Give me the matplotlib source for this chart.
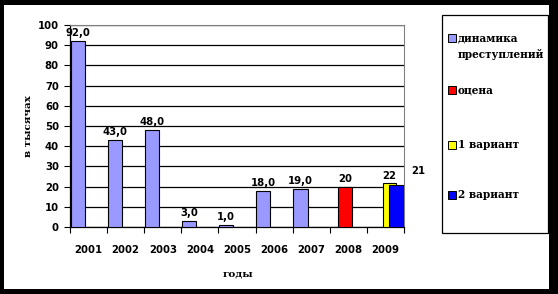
import matplotlib as mpl
mpl.use("Agg")
import matplotlib.pyplot as plt
from matplotlib.patches import Rectangle

# data
years = ["2001", "2002", "2003", "2004", "2005", "2006", "2007", "2008", "2009"]
dyn_idx = [0, 1, 2, 3, 4, 5, 6]
dyn_vals = [92.0, 43.0, 48.0, 3.0, 1.0, 18.0, 19.0]
est_idx = [7]
est_vals = [20]
var1_idx = [8]
var1_vals = [22]
var2_idx = [8]
var2_vals = [21]

legend_names = ["динамика\nпреступлений", "оцена", "1 вариант", "2 вариант"]
colors = ["#9999FF", "#FF0000", "#FFFF00", "#0000FF"]

num_font = "DejaVu Sans"     # digits look like Verdana bold
txt_font = "DejaVu Serif"    # cyrillic text looks serif
fs = 7.3
W, H = 558, 294

fig = plt.figure(figsize=(W / 100, H / 100), dpi=100)
fig.patch.set_facecolor("black")
# white card with black frame
fig.patches.append(Rectangle((4 / W, 1 - 289 / H), 545 / W, 284 / H,
                             transform=fig.transFigure, facecolor="white",
                             edgecolor="none", zorder=-5))

ax = fig.add_axes([70 / W, 1 - 227 / H, 334 / W, 202 / H])
ax.set_zorder(5)
ax.set_facecolor("white")

def bars(idx, vals, off, w, c):
    return ax.bar([i + off for i in idx], vals, width=w, align="edge",
                  color=c, edgecolor="black", linewidth=0.8, zorder=3)

b0 = bars(dyn_idx, dyn_vals, 0.02, 0.38, colors[0])
b1 = bars(est_idx, est_vals, 0.22, 0.38, colors[1])
b2 = bars(var1_idx, var1_vals, 0.43, 0.36, colors[2])
b3 = bars(var2_idx, var2_vals, 0.59, 0.41, colors[3])

lab = dict(fontsize=fs, fontweight="bold", family=num_font, zorder=5)
for r, v in zip(b0, dyn_vals):
    ax.annotate(("%.1f" % v).replace(".", ","), (r.get_x() + r.get_width() / 2, v),
                xytext=(0, 2), textcoords="offset points", ha="center", va="bottom", **lab)
for r, v in zip(b1, est_vals):
    ax.annotate(str(v), (r.get_x() + r.get_width() / 2, v),
                xytext=(0, 2), textcoords="offset points", ha="center", va="bottom", **lab)
for r, v in zip(b2, var1_vals):
    ax.annotate(str(v), (r.get_x() + r.get_width() / 2, v),
                xytext=(0, 1), textcoords="offset points", ha="center", va="bottom", **lab)
for r, v in zip(b3, var2_vals):
    ax.annotate(str(v), (r.get_x() + r.get_width() / 2, v),
                xytext=(16, 6), textcoords="offset points", ha="center", va="bottom",
                annotation_clip=False, **lab)

ax.set_xlim(0, len(years))
ax.set_ylim(0, 100)
ax.set_yticks(range(0, 101, 10))
ax.yaxis.grid(True, color="black", linewidth=0.9, zorder=1)
ax.set_axisbelow(True)

ax.set_xticks(range(len(years) + 1))
ax.set_xticklabels([])
ax.set_xticks([i + 0.5 for i in range(len(years))], minor=True)
ax.set_xticklabels(years, minor=True)
ax.tick_params(axis="x", which="minor", length=0, pad=13)
ax.tick_params(axis="x", which="major", length=4, direction="out", width=0.8)
ax.tick_params(axis="y", length=4, direction="out", width=0.8, pad=4)
for t in ax.get_xticklabels(minor=True) + ax.get_yticklabels():
    t.set_fontsize(fs)
    t.set_fontweight("bold")
    t.set_family(num_font)

for s in ("top", "right"):
    ax.spines[s].set_color("#808080")
for s in ("left", "bottom"):
    ax.spines[s].set_color("black")
    ax.spines[s].set_linewidth(0.9)

ax.set_ylabel("в тысячах", fontsize=7.5, fontweight="bold", family=txt_font)
ax.yaxis.set_label_coords(-37 / 334, 0.5)
ax.set_xlabel("годы", fontsize=7.5, fontweight="bold", family=txt_font)
ax.xaxis.set_label_coords((238 - 70) / 334, -(270 - 227) / 202)

# legend box drawn by hand
fig.patches.append(Rectangle((442 / W, 1 - 233 / H), 106 / W, 218 / H,
                             transform=fig.transFigure, facecolor="white",
                             edgecolor="black", linewidth=0.9, zorder=2))
leg_y = [38, 90, 145, 195]
for name, c, y in zip(legend_names, colors, leg_y):
    fig.patches.append(Rectangle((448 / W, 1 - (y + 4) / H), 8 / W, 8 / H,
                                 transform=fig.transFigure, facecolor=c,
                                 edgecolor="black", linewidth=0.7, zorder=3))
    fig.text(458 / W, 1 - (y - 5.5) / H, name, fontsize=7.6, fontweight="bold",
             family=txt_font, va="top", ha="left", linespacing=1.6, zorder=4)

fig.savefig("out.png", dpi=100, facecolor=fig.get_facecolor())
